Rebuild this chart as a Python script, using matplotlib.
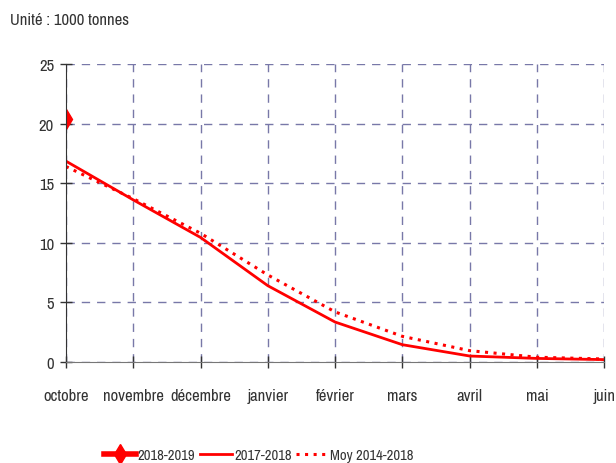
import matplotlib.pyplot as plt
from matplotlib import font_manager

# reference looks like Arial Narrow; Archivo Narrow is the closest installed
names = {f.name for f in font_manager.fontManager.ttflist}
font = "Archivo Narrow" if "Archivo Narrow" in names else "Liberation Sans"
plt.rcParams["font.family"] = [font, "DejaVu Sans"]

mois = ["octobre", "novembre", "décembre", "janvier", "février",
        "mars", "avril", "mai", "juin"]
campagne_2018_2019 = [20.4]
campagne_2017_2018 = [16.85, 13.6, 10.45, 6.4, 3.35, 1.45, 0.5, 0.3, 0.2]
moy_2014_2018 = [16.4, 13.7, 10.8, 7.3, 4.2, 2.15, 0.95, 0.4, 0.25]

x = list(range(len(mois)))

fig = plt.figure(figsize=(6.16, 4.64), dpi=100)
ax = fig.add_axes([0.107, 0.2177, 0.874, 0.6423])

ax.plot(x[:len(campagne_2018_2019)], campagne_2018_2019, color="red", lw=4,
        marker="d", markersize=10, label="2018-2019")
ax.plot(x, campagne_2017_2018, color="red", lw=2, label="2017-2018")
ax.plot(x, moy_2014_2018, color="red", lw=2.2, linestyle=(0, (1, 1.8)),
        label="Moy 2014-2018")

ax.set_xlim(0, len(mois) - 1)
ax.set_ylim(0, 25)
ax.set_xticks(x)
ax.set_xticklabels(mois)
ax.set_yticks(range(0, 26, 5))
ax.grid(True, color="#7878a8", linestyle=(0, (6, 5)), lw=1)
ax.set_axisbelow(True)

for side in ["top", "right"]:
    ax.spines[side].set_visible(False)
ax.spines["left"].set_color("#333333")
ax.spines["bottom"].set_color("#777777")
ax.tick_params(axis="both", direction="inout", length=9, width=1,
               colors="#333333", labelsize=12, labelcolor="#333333")
ax.tick_params(axis="x", pad=14)
ax.tick_params(axis="y", pad=4)

fig.text(0.016, 0.955, "Unité : 1000 tonnes", fontsize=12, color="#333333",
         va="center", ha="left")

fig.legend(loc="lower center", bbox_to_anchor=(0.42, -0.027), ncol=3,
           frameon=False, fontsize=10.5, handlelength=2.2, handletextpad=0.15,
           columnspacing=0.3, labelcolor="#333333")

fig.savefig("out.png", dpi=100)
